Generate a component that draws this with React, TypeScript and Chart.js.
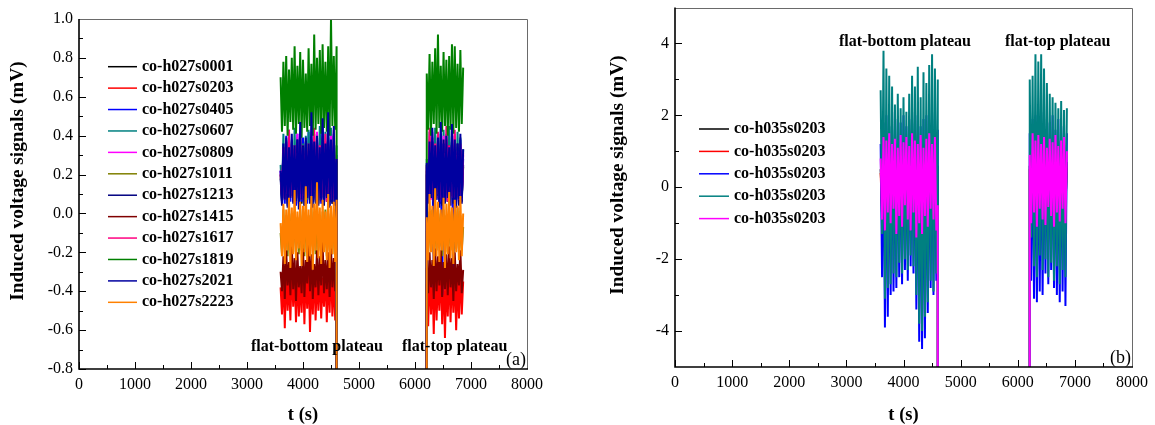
import React, { useEffect, useRef } from "react";
import { Chart, registerables } from "chart.js";
Chart.register(...registerables);

// ---------------- shared time grids (s) ----------------
const plateau1Times = [3600, 3625, 3650, 3675, 3700, 3725, 3750, 3775, 3800, 3825, 3850, 3875, 3900, 3925, 3950, 3975, 4000, 4025, 4050, 4075, 4100, 4125, 4150, 4175, 4200, 4225, 4250, 4275, 4300, 4325, 4350, 4375, 4400, 4425, 4450, 4475, 4500, 4525, 4550, 4575, 4600];
const plateau2Times = [6210, 6235, 6260, 6285, 6310, 6335, 6360, 6385, 6410, 6435, 6460, 6485, 6510, 6535, 6560, 6585, 6610, 6635, 6660, 6685, 6710, 6735, 6760, 6785, 6810, 6835, 6860];
// between the plateaus the signal falls far off scale
const gapTimes = [4610, 6205];
const offScaleLevel = -100;

// ---------------- axes ----------------
const xTickValues = [0, 1000, 2000, 3000, 4000, 5000, 6000, 7000, 8000];
const xTickLabels = ["0", "1000", "2000", "3000", "4000", "5000", "6000", "7000", "8000"];
const xMinorValues = [500, 1500, 2500, 3500, 4500, 5500, 6500, 7500];

const yTickValuesA = [-0.8, -0.6, -0.4, -0.2, 0, 0.2, 0.4, 0.6, 0.8, 1.0];
const yTickLabelsA = ["-0.8", "-0.6", "-0.4", "-0.2", "0.0", "0.2", "0.4", "0.6", "0.8", "1.0"];
const yMinorValuesA = [-0.7, -0.5, -0.3, -0.1, 0.1, 0.3, 0.5, 0.7, 0.9];

const yTickValuesB = [-4, -2, 0, 2, 4];
const yTickLabelsB = ["-4", "-2", "0", "2", "4"];
const yMinorValuesB = [-3, -1, 1, 3];

const xTitle = "t (s)";
const yTitle = "Induced voltage signals (mV)";

// ---------------- panel (a) series ----------------
const labelsA = ["co-h027s0001", "co-h027s0203", "co-h027s0405", "co-h027s0607", "co-h027s0809", "co-h027s1011", "co-h027s1213", "co-h027s1415", "co-h027s1617", "co-h027s1819", "co-h027s2021", "co-h027s2223"];
const colorsA = ["#000000", "#FF0000", "#0000FF", "#008080", "#FF00FF", "#808000", "#000080", "#800000", "#FF0080", "#008000", "#0000A0", "#FF8000"];

const a0001P1 = [0.20, 0.06, 0.30, 0.08, 0.28, 0.05, 0.31, 0.09, 0.27, 0.07,
  0.29, 0.06, 0.32, 0.10, 0.26, 0.05, 0.30, 0.08, 0.28, 0.07,
  0.31, 0.09, 0.27, 0.06, 0.30, 0.08, 0.29, 0.05, 0.32, 0.07,
  0.28, 0.09, 0.30, 0.06, 0.27, 0.08, 0.31, 0.05, 0.29, 0.07,
  0.25];
const a0001P2 = [0.22, 0.07, 0.29, 0.09, 0.31, 0.06, 0.28, 0.08, 0.30, 0.05,
  0.27, 0.09, 0.32, 0.07, 0.29, 0.06, 0.30, 0.08, 0.28, 0.05,
  0.31, 0.07, 0.27, 0.09, 0.30, 0.06, 0.24];

const a0203P1 = [-0.38, -0.52, -0.30, -0.59, -0.28, -0.50, -0.33, -0.55, -0.27, -0.48,
  -0.31, -0.56, -0.29, -0.53, -0.34, -0.51, -0.26, -0.57, -0.30, -0.49,
  -0.28, -0.61, -0.32, -0.52, -0.27, -0.55, -0.31, -0.50, -0.29, -0.54,
  -0.33, -0.48, -0.28, -0.56, -0.30, -0.51, -0.27, -0.53, -0.32, -0.55,
  -0.40];
const a0203P2 = [-0.36, -0.58, -0.29, -0.52, -0.31, -0.62, -0.28, -0.55, -0.33, -0.50,
  -0.27, -0.57, -0.30, -0.64, -0.32, -0.53, -0.28, -0.56, -0.31, -0.51,
  -0.29, -0.60, -0.33, -0.54, -0.28, -0.52, -0.35];

const a0405P1 = [0.22, 0.07, 0.36, 0.05, 0.40, 0.09, 0.33, 0.06, 0.38, 0.10,
  0.35, 0.04, 0.41, 0.08, 0.34, 0.06, 0.39, 0.09, 0.36, 0.05,
  0.42, 0.07, 0.33, 0.10, 0.37, 0.06, 0.40, 0.08, 0.35, 0.05,
  0.48, 0.09, 0.36, 0.07, 0.39, 0.04, 0.34, 0.08, 0.41, 0.06,
  0.30];
const a0405P2 = [0.25, 0.06, 0.38, 0.09, 0.34, -0.38, 0.40, 0.07, 0.36, 0.05,
  0.39, -0.42, 0.33, 0.08, 0.41, 0.06, 0.35, 0.09, 0.37, -0.36,
  0.40, 0.05, 0.34, 0.08, 0.38, 0.07, 0.28];

const a0607P1 = [0.25, 0.09, 0.41, 0.07, 0.38, 0.11, 0.43, 0.08, 0.37, 0.10,
  0.44, 0.06, 0.39, 0.09, 0.42, 0.12, 0.36, 0.08, 0.40, 0.07,
  0.43, 0.10, 0.38, 0.06, 0.41, 0.09, 0.37, 0.11, 0.45, 0.08,
  0.39, 0.07, 0.42, 0.10, 0.38, 0.06, 0.44, 0.09, 0.40, 0.08,
  0.35];
const a0607P2 = [0.28, 0.08, 0.42, 0.10, 0.39, 0.07, 0.44, 0.09, 0.37, 0.11,
  0.41, 0.06, 0.43, 0.08, 0.38, 0.10, 0.45, 0.07, 0.40, 0.09,
  0.36, 0.08, 0.42, 0.06, 0.39, 0.10, 0.33];

const a0809P1 = [0.22, 0.10, 0.33, 0.08, 0.37, 0.07, 0.31, 0.11, 0.36, 0.09,
  0.32, 0.06, 0.41, 0.10, 0.30, 0.08, 0.35, 0.07, 0.33, 0.12,
  0.31, 0.08, 0.37, 0.09, 0.32, 0.07, 0.42, 0.10, 0.30, 0.06,
  0.36, 0.08, 0.34, 0.11, 0.31, 0.07, 0.40, 0.09, 0.32, 0.10,
  0.28];
const a0809P2 = [0.24, 0.09, 0.34, 0.07, 0.42, 0.10, 0.32, 0.08, 0.36, 0.06,
  0.31, 0.11, 0.40, 0.09, 0.35, 0.07, 0.33, 0.08, 0.30, 0.10,
  0.41, 0.06, 0.32, 0.09, 0.35, 0.07, 0.30];

const a1011P1 = [-0.10, -0.21, 0.02, -0.18, -0.01, -0.22, 0.03, -0.19, 0.00, -0.20,
  0.01, -0.17, -0.02, -0.21, 0.02, -0.19, 0.00, -0.22, 0.01, -0.18,
  -0.01, -0.20, 0.03, -0.17, 0.00, -0.21, 0.02, -0.19, -0.01, -0.20,
  0.01, -0.18, 0.02, -0.22, 0.00, -0.19, 0.01, -0.21, -0.02, -0.18,
  -0.08];
const a1011P2 = [-0.09, -0.20, 0.01, -0.18, 0.02, -0.21, -0.01, -0.19, 0.03, -0.17,
  0.00, -0.22, 0.02, -0.18, -0.01, -0.20, 0.01, -0.19, 0.02, -0.21,
  0.00, -0.18, 0.03, -0.20, -0.01, -0.19, -0.07];

const a1213P1 = [0.18, 0.05, 0.34, 0.08, 0.37, 0.04, 0.31, 0.09, 0.36, 0.06,
  0.33, 0.07, 0.38, 0.05, 0.32, 0.10, 0.35, 0.04, 0.37, 0.08,
  0.30, 0.06, 0.36, 0.09, 0.33, 0.05, 0.38, 0.07, 0.31, 0.08,
  0.35, 0.04, 0.37, 0.09, 0.32, 0.06, 0.36, 0.05, 0.34, 0.08,
  0.27];
const a1213P2 = [0.20, 0.06, 0.35, 0.08, 0.37, 0.05, 0.32, 0.09, 0.36, 0.07,
  0.33, 0.04, 0.38, 0.08, 0.31, 0.06, 0.35, 0.09, 0.37, 0.05,
  0.34, 0.07, 0.36, 0.04, 0.32, 0.08, 0.25];

const a1415P1 = [-0.30, -0.40, -0.22, -0.44, -0.19, -0.37, -0.25, -0.42, -0.17, -0.39,
  -0.23, -0.45, -0.20, -0.38, -0.27, -0.41, -0.18, -0.43, -0.24, -0.36,
  -0.16, -0.40, -0.21, -0.44, -0.26, -0.38, -0.19, -0.42, -0.22, -0.37,
  -0.15, -0.41, -0.24, -0.39, -0.20, -0.43, -0.18, -0.38, -0.23, -0.40,
  -0.30];
const a1415P2 = [-0.28, -0.41, -0.20, -0.38, -0.24, -0.44, -0.18, -0.40, -0.22, -0.37,
  -0.19, -0.43, -0.25, -0.39, -0.21, -0.42, -0.17, -0.38, -0.23, -0.45,
  -0.20, -0.40, -0.26, -0.37, -0.19, -0.41, -0.29];

const a1617P1 = [0.20, 0.09, 0.34, 0.07, 0.30, 0.10, 0.43, 0.08, 0.32, 0.06,
  0.35, 0.11, 0.31, 0.08, 0.42, 0.07, 0.33, 0.09, 0.30, 0.10,
  0.36, 0.06, 0.32, 0.08, 0.44, 0.11, 0.30, 0.07, 0.35, 0.09,
  0.31, 0.08, 0.41, 0.06, 0.33, 0.10, 0.30, 0.07, 0.43, 0.09,
  0.28];
const a1617P2 = [0.25, 0.07, 0.44, 0.09, 0.32, 0.06, 0.36, 0.10, 0.42, 0.08,
  0.33, 0.07, 0.31, 0.11, 0.45, 0.06, 0.35, 0.09, 0.32, 0.08,
  0.43, 0.10, 0.30, 0.07, 0.36, 0.09, 0.31];

const a1819P1 = [0.70, 0.42, 0.78, 0.45, 0.81, 0.40, 0.74, 0.47, 0.80, 0.43,
  0.86, 0.41, 0.76, 0.46, 0.83, 0.39, 0.79, 0.44, 0.72, 0.42,
  0.85, 0.45, 0.77, 0.40, 0.92, 0.43, 0.80, 0.46, 0.84, 0.41,
  0.87, 0.44, 0.78, 0.42, 0.86, 0.40, 1.00, 0.45, 0.81, 0.43,
  0.86];
const a1819P2 = [0.72, 0.43, 0.82, 0.40, 0.78, 0.46, 0.85, 0.41, 0.92, 0.44,
  0.76, 0.42, 0.83, 0.45, 0.79, 0.40, 0.81, 0.43, 0.87, 0.41,
  0.86, 0.44, 0.77, 0.42, 0.84, 0.46, 0.75];

const a2021P1 = [0.22, 0.04, 0.36, 0.07, 0.39, 0.03, 0.34, 0.08, 0.41, 0.05,
  0.35, 0.06, 0.38, 0.02, 0.47, 0.07, 0.34, 0.04, 0.39, 0.08,
  0.36, 0.05, 0.52, 0.03, 0.37, 0.07, 0.40, 0.04, 0.34, 0.06,
  0.49, 0.05, 0.36, 0.08, 0.52, 0.03, 0.38, 0.06, 0.45, 0.04,
  0.28];
const a2021P2 = [0.26, 0.05, 0.37, 0.08, 0.44, 0.04, 0.35, 0.07, 0.39, 0.03,
  0.47, 0.06, 0.36, 0.05, 0.40, 0.08, 0.34, 0.04, 0.46, 0.06,
  0.38, 0.03, 0.36, 0.07, 0.41, 0.05, 0.33];

const a2223P1 = [-0.05, -0.22, 0.05, -0.26, 0.02, -0.19, 0.08, -0.28, 0.03, -0.21,
  0.12, -0.24, 0.01, -0.18, 0.06, -0.27, 0.04, -0.20, 0.14, -0.25,
  0.02, -0.22, 0.09, -0.29, 0.05, -0.19, 0.16, -0.23, 0.03, -0.26,
  0.07, -0.20, 0.01, -0.24, 0.10, -0.28, 0.04, -0.21, 0.06, -0.25,
  0.07];
const a2223P2 = [-0.02, -0.24, 0.10, -0.20, 0.04, -0.27, 0.13, -0.22, 0.06, -0.25,
  0.02, -0.19, 0.08, -0.28, 0.05, -0.21, 0.11, -0.23, 0.03, -0.26,
  0.07, -0.20, 0.04, -0.24, 0.09, -0.22, 0.00];

// ---------------- panel (b) series ----------------
const labelsB = ["co-h035s0203", "co-h035s0203", "co-h035s0203", "co-h035s0203", "co-h035s0203"];
const colorsB = ["#000000", "#FF0000", "#0000FF", "#008080", "#FF00FF"];

const bBlackP1 = [0.5, -0.6, 1.0, -0.4, 0.9, -0.7, 1.1, -0.5, 0.8, -0.6,
  1.0, -0.3, 0.9, -0.7, 1.1, -0.5, 0.8, -0.6, 1.0, -0.4,
  0.9, -0.6, 1.1, -0.5, 0.8, -0.7, 1.0, -0.4, 0.9, -0.6,
  1.1, -0.5, 0.8, -0.3, 1.0, -0.6, 0.9, -0.5, 1.1, -0.4,
  0.6];
const bBlackP2 = [0.6, -0.5, 1.0, -0.6, 0.9, -0.4, 1.1, -0.7, 0.8, -0.5,
  1.0, -0.6, 0.9, -0.4, 1.1, -0.5, 0.8, -0.6, 1.0, -0.7,
  0.9, -0.4, 1.1, -0.5, 0.8, -0.6, 0.7];

const bRedP1 = [0.4, -0.8, 1.2, -0.6, 1.0, -0.9, 1.3, -0.5, 1.1, -0.7,
  0.9, -0.8, 1.2, -0.6, 1.0, -0.9, 1.3, -0.7, 1.1, -0.5,
  1.2, -0.8, 1.0, -0.6, 1.3, -0.9, 1.1, -0.7, 1.0, -0.5,
  1.2, -0.8, 1.3, -0.6, 1.1, -0.9, 1.0, -0.7, 1.2, -0.6,
  0.5];
const bRedP2 = [0.5, -0.7, 1.1, -0.9, 1.3, -0.6, 1.0, -0.8, 1.2, -0.5,
  1.1, -0.9, 1.3, -0.7, 1.0, -0.6, 1.2, -0.8, 1.1, -0.5,
  1.3, -0.9, 1.0, -0.7, 1.2, -0.6, 0.6];

const bBlueP1 = [1.2, -2.5, 1.8, -3.9, 2.0, -3.6, 1.7, -3.0, 2.1, -2.9,
  1.6, -2.8, 1.9, -2.5, 1.8, -2.7, 2.0, -2.3, 1.7, -2.6,
  1.9, -2.2, 2.1, -2.4, 1.8, -3.4, 2.0, -4.3, 1.7, -4.5,
  1.9, -4.2, 2.0, -3.5, 1.8, -2.8, 2.1, -3.0, 1.9, -2.6,
  1.6];
const bBlueP2 = [1.5, -2.6, 1.9, -3.1, 2.0, -3.2, 1.8, -2.9, 2.1, -3.0,
  1.7, -2.4, 1.9, -2.7, 1.8, -2.3, 2.0, -2.8, 1.6, -3.0,
  1.9, -3.2, 1.7, -2.9, 1.8, -3.3, 1.5];

const bTealP1 = [2.7, -1.3, 3.8, -3.1, 3.3, -2.8, 3.1, -2.7, 2.8, -2.4,
  2.3, -2.5, 2.6, -2.1, 2.2, -2.4, 2.5, -2.0, 2.1, -2.3,
  2.6, -1.9, 3.1, -2.2, 2.8, -3.0, 3.35, -3.8, 2.5, -4.0,
  3.2, -3.6, 2.9, -3.2, 3.4, -2.6, 3.7, -2.9, 3.3, -2.4,
  3.0];
const bTealP2 = [3.0, -1.4, 3.1, -2.2, 3.7, -2.5, 3.5, -1.9, 3.7, -2.3,
  3.3, -2.0, 2.9, -2.5, 2.6, -2.1, 2.5, -2.6, 2.35, -2.2,
  2.2, -2.7, 2.4, -2.3, 2.15, -2.5, 2.2];

const bMagentaP1 = [0.8, -0.9, 1.4, -1.2, 1.3, -0.7, 1.5, -1.0, 1.2, -0.6,
  1.35, -1.3, 1.1, -0.8, 1.45, -1.1, 1.25, -0.5, 1.4, -0.9,
  1.15, -1.2, 1.5, -0.7, 1.3, -1.4, 1.2, -1.0, 1.45, -1.3,
  1.1, -0.8, 1.35, -1.1, 1.5, -0.6, 1.2, -0.9, 1.4, -1.2,
  -0.5];
const bMagentaP2 = [0.9, -1.0, 1.5, -0.7, 1.3, -1.1, 1.45, -0.6, 1.2, -0.9,
  1.4, -1.05, 1.1, -0.55, 1.35, -0.8, 1.25, -1.1, 1.45, -0.7,
  1.15, -0.95, 1.3, -0.6, 1.4, -1.0, 1.0];

const FONT = "'Liberation Serif', 'Times New Roman', Times, serif";

function buildPoints(p1: number[], p2: number[]) {
  const pts: { x: number; y: number }[] = [];
  plateau1Times.forEach((t, i) => { if (i < p1.length) pts.push({ x: t, y: p1[i] }); });
  pts.push({ x: gapTimes[0], y: offScaleLevel });
  pts.push({ x: gapTimes[1], y: offScaleLevel });
  plateau2Times.forEach((t, i) => { if (i < p2.length) pts.push({ x: t, y: p2[i] }); });
  return pts;
}

const seriesA = [
  [a0001P1, a0001P2], [a0203P1, a0203P2], [a0405P1, a0405P2], [a0607P1, a0607P2],
  [a0809P1, a0809P2], [a1011P1, a1011P2], [a1213P1, a1213P2], [a1415P1, a1415P2],
  [a1617P1, a1617P2], [a1819P1, a1819P2], [a2021P1, a2021P2], [a2223P1, a2223P2],
];
const seriesB = [
  [bBlackP1, bBlackP2], [bRedP1, bRedP2], [bBlueP1, bBlueP2], [bTealP1, bTealP2], [bMagentaP1, bMagentaP2],
];

const panelA = {
  id: "a",
  labels: labelsA, colors: colorsA, series: seriesA,
  yMin: -0.8, yMax: 1.0,
  yTicks: yTickValuesA, yTickLabels: yTickLabelsA, yMinor: yMinorValuesA,
  canvasLeft: 0, canvasW: 560, canvasH: 425,
  area: { left: 79, top: 19, right: 527, bottom: 369 },
  yTitlePos: { x: 18.5, y: 181 },
  legend: { x1: 108, x2: 137, textX: 142, y0: 66.7, dy: 21.42 },
  notes: [
    { text: "flat-bottom plateau", t: 3071, v: -0.684 },
    { text: "flat-top plateau", t: 5768, v: -0.684 },
  ],
  tag: "(a)",
};

const panelB = {
  id: "b",
  labels: labelsB, colors: colorsB, series: seriesB,
  yMin: -5, yMax: 5,
  yTicks: yTickValuesB, yTickLabels: yTickLabelsB, yMinor: yMinorValuesB,
  canvasLeft: 580, canvasW: 575, canvasH: 425,
  area: { left: 95, top: 7.5, right: 552, bottom: 367 },
  yTitlePos: { x: 38.5, y: 175 },
  legend: { x1: 119, x2: 149, textX: 154, y0: 129, dy: 22.4 },
  notes: [
    { text: "flat-bottom plateau", t: 2871, v: 4.04 },
    { text: "flat-top plateau", t: 5777, v: 4.04 },
  ],
  tag: "(b)",
};

function makeDecor(cfg: any) {
  return {
    id: "decor_" + cfg.id,
    afterDatasetsDraw(chart: any) {
      const ctx = chart.ctx;
      const { left, right, top, bottom } = chart.chartArea;
      const xs = chart.scales.x;
      const ys = chart.scales.y;
      ctx.save();
      // inward tick marks
      ctx.strokeStyle = "#000";
      ctx.lineWidth = 1;
      ctx.beginPath();
      xTickValues.forEach((v) => {
        const p = Math.round(xs.getPixelForValue(v)) + 0.5;
        ctx.moveTo(p, bottom); ctx.lineTo(p, bottom - 7);
      });
      xMinorValues.forEach((v) => {
        const p = Math.round(xs.getPixelForValue(v)) + 0.5;
        ctx.moveTo(p, bottom); ctx.lineTo(p, bottom - 4);
      });
      cfg.yTicks.forEach((v: number) => {
        const p = Math.round(ys.getPixelForValue(v)) + 0.5;
        ctx.moveTo(left, p); ctx.lineTo(left + 7, p);
      });
      cfg.yMinor.forEach((v: number) => {
        const p = Math.round(ys.getPixelForValue(v)) + 0.5;
        ctx.moveTo(left, p); ctx.lineTo(left + 4, p);
      });
      ctx.stroke();
      // frame: light top/right, dark left/bottom
      ctx.strokeStyle = "#6a6a6a";
      ctx.lineWidth = 1;
      ctx.beginPath();
      ctx.moveTo(left, Math.round(top) + 0.5);
      ctx.lineTo(Math.round(right) + 0.5, Math.round(top) + 0.5);
      ctx.lineTo(Math.round(right) + 0.5, bottom);
      ctx.stroke();
      ctx.strokeStyle = "#000";
      ctx.lineWidth = 1.6;
      ctx.beginPath();
      ctx.moveTo(left, top);
      ctx.lineTo(left, bottom);
      ctx.lineTo(right + 1, bottom);
      ctx.stroke();
      // legend
      const lg = cfg.legend;
      chart.data.datasets.forEach((ds: any, i: number) => {
        const y = lg.y0 + i * lg.dy;
        ctx.strokeStyle = ds.borderColor;
        ctx.lineWidth = 1.5;
        ctx.beginPath();
        ctx.moveTo(lg.x1, y);
        ctx.lineTo(lg.x2, y);
        ctx.stroke();
        ctx.fillStyle = "#000";
        ctx.font = "bold 16px " + FONT;
        ctx.textAlign = "left";
        ctx.textBaseline = "middle";
        ctx.fillText(ds.label, lg.textX, y);
      });
      // plateau annotations (anchored in data coordinates)
      ctx.font = "bold 16px " + FONT;
      ctx.textAlign = "left";
      ctx.textBaseline = "middle";
      ctx.fillStyle = "#000";
      cfg.notes.forEach((n: any) => {
        ctx.fillText(n.text, xs.getPixelForValue(n.t), ys.getPixelForValue(n.v));
      });
      // panel tag
      ctx.font = "18px " + FONT;
      ctx.textAlign = "right";
      ctx.fillText(cfg.tag, right - 1, bottom - 9);
      // rotated y-axis title
      ctx.save();
      ctx.translate(cfg.yTitlePos.x, cfg.yTitlePos.y);
      ctx.rotate(-Math.PI / 2);
      ctx.font = "bold 19.3px " + FONT;
      ctx.textAlign = "center";
      ctx.textBaseline = "middle";
      ctx.fillText(yTitle, 0, 0);
      ctx.restore();
      ctx.restore();
    },
  };
}

function buildConfig(cfg: any): any {
  const datasets = cfg.series.map((pair: number[][], i: number) => ({
    label: cfg.labels[i],
    data: buildPoints(pair[0], pair[1]),
    borderColor: cfg.colors[i],
    backgroundColor: cfg.colors[i],
    borderWidth: 2,
    borderJoinStyle: "bevel",
    pointRadius: 0,
    pointHoverRadius: 0,
    fill: false,
    tension: 0,
    order: -i,
  }));
  const a = cfg.area;
  return {
    type: "line",
    data: { datasets },
    options: {
      animation: false,
      responsive: false,
      maintainAspectRatio: false,
      events: [],
      layout: { padding: { left: 0, top: a.top, right: cfg.canvasW - a.right, bottom: 0 } },
      plugins: { legend: { display: false }, tooltip: { enabled: false } },
      scales: {
        x: {
          type: "linear",
          min: 0,
          max: 8000,
          bounds: "data",
          grid: { display: false, drawTicks: false },
          border: { display: false },
          afterBuildTicks: (sc: any) => { sc.ticks = xTickValues.map((v) => ({ value: v })); },
          afterFit: (sc: any) => {
            sc.height = cfg.canvasH - a.bottom;
            sc.paddingLeft = 0; sc.paddingRight = 0; sc.paddingTop = 0; sc.paddingBottom = 0;
          },
          ticks: {
            autoSkip: false, maxRotation: 0, minRotation: 0, padding: 6, color: "#000",
            font: { family: FONT, size: 16 },
            callback: (_v: any, i: number) => xTickLabels[i],
          },
          title: {
            display: true, text: xTitle, color: "#000",
            font: { family: FONT, size: 18.5, weight: "bold", lineHeight: 1 },
            padding: { top: 0, bottom: 0.5 },
          },
        },
        y: {
          type: "linear",
          min: cfg.yMin,
          max: cfg.yMax,
          bounds: "data",
          grid: { display: false, drawTicks: false },
          border: { display: false },
          afterBuildTicks: (sc: any) => { sc.ticks = cfg.yTicks.map((v: number) => ({ value: v })); },
          afterFit: (sc: any) => {
            sc.width = a.left;
            sc.paddingLeft = 0; sc.paddingRight = 0; sc.paddingTop = 0; sc.paddingBottom = 0;
          },
          ticks: {
            autoSkip: false, padding: 6, color: "#000",
            font: { family: FONT, size: 16 },
            callback: (_v: any, i: number) => cfg.yTickLabels[i],
          },
          title: { display: false },
        },
      },
    },
    plugins: [makeDecor(cfg)],
  };
}

function Panel({ cfg }: { cfg: any }) {
  const ref = useRef<HTMLCanvasElement>(null);
  useEffect(() => {
    const chart = new Chart(ref.current as HTMLCanvasElement, buildConfig(cfg));
    return () => chart.destroy();
  }, [cfg]);
  return (
    <canvas
      ref={ref}
      width={cfg.canvasW}
      height={cfg.canvasH}
      style={{ position: "absolute", left: cfg.canvasLeft, top: 0, width: cfg.canvasW, height: cfg.canvasH }}
    />
  );
}

export default function App() {
  return (
    <div style={{ position: "fixed", left: 0, top: 0, width: 1155, height: 425, background: "#fff", overflow: "hidden" }}>
      <Panel cfg={panelA} />
      <Panel cfg={panelB} />
    </div>
  );
}
